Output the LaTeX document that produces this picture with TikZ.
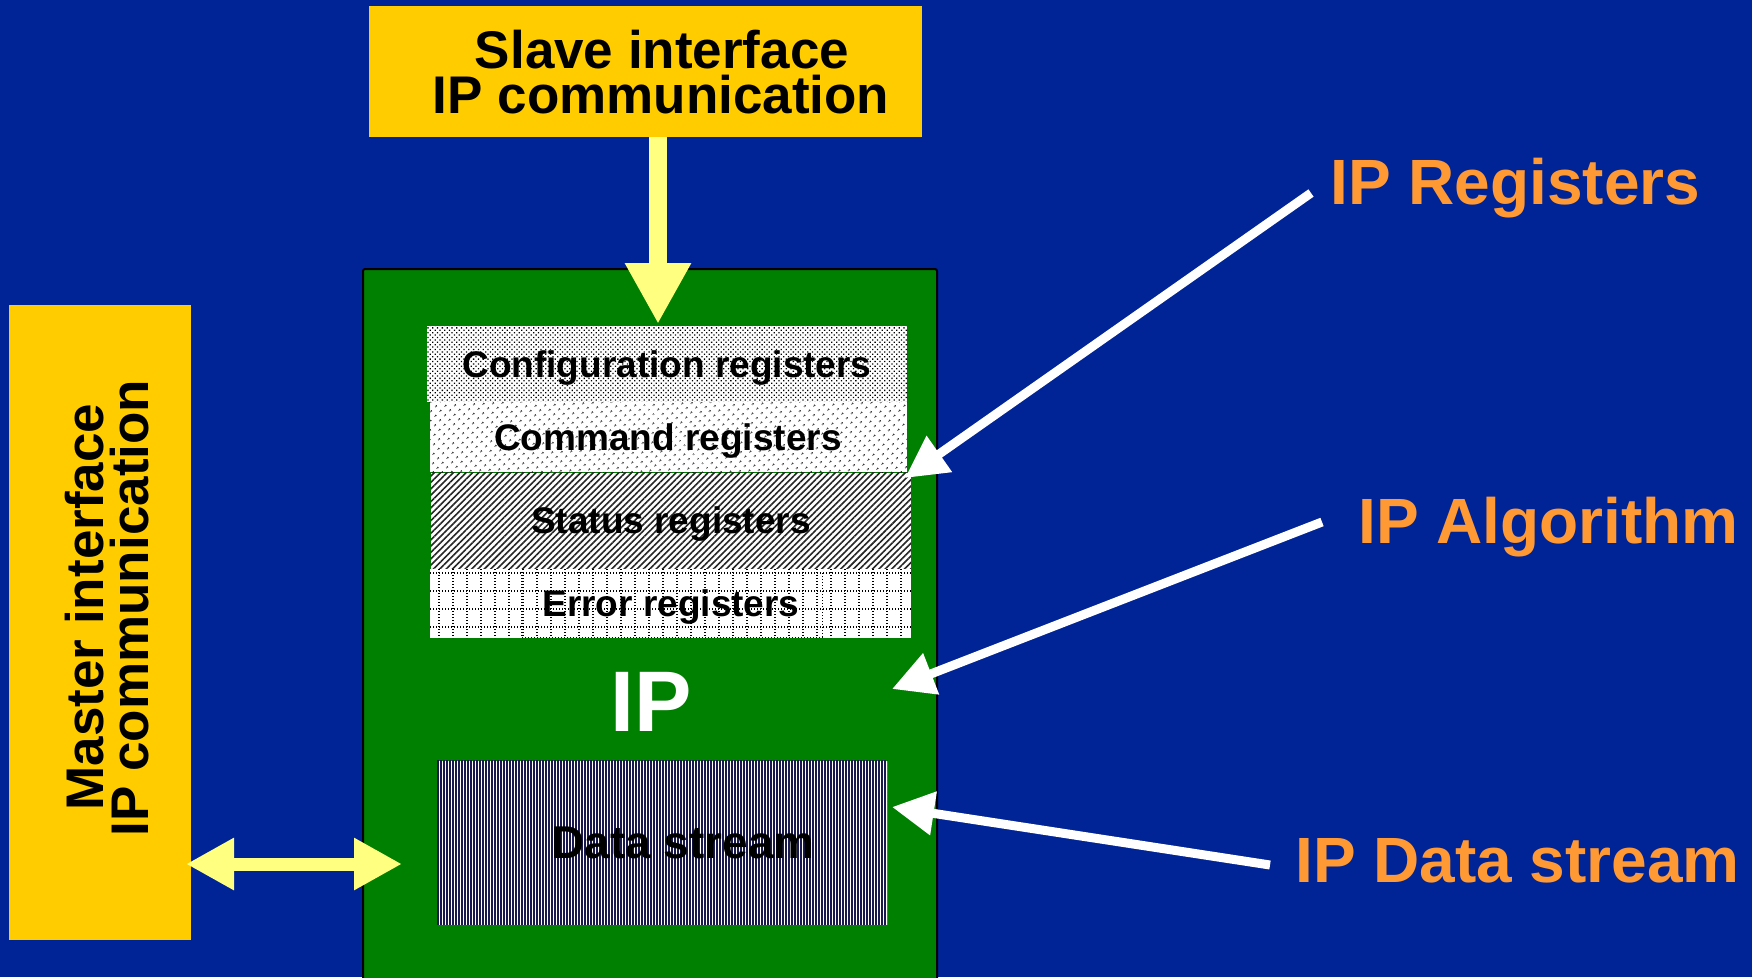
\documentclass[tikz,border=0pt]{standalone}
\usepackage{fontspec}
\setmainfont{Liberation Sans}
\usetikzlibrary{arrows.meta,patterns.meta}

\definecolor{bgnavy}{RGB}{0,35,149}
\definecolor{ipgreen}{RGB}{0,128,0}
\definecolor{ifyellow}{RGB}{255,204,0}
\definecolor{linkyellow}{RGB}{255,255,128}
\definecolor{tagorange}{RGB}{255,153,51}
\definecolor{streamnavy}{RGB}{25,25,80}

\begin{document}
\begin{tikzpicture}[x=1pt,y=-1pt,
  ifbox/.style={fill=ifyellow, draw=none, inner sep=0pt, anchor=north west},
  iftext/.style={font=\bfseries\fontsize{53}{53}\selectfont, inner sep=0pt, anchor=base,
                 text height=38pt, text depth=0pt},
  regbox/.style={draw=none, inner sep=0pt, anchor=north west, preaction={fill=white}},
  regtext/.style={font=\bfseries\fontsize{37}{37}\selectfont, inner sep=0pt, anchor=base},
  tag/.style={font=\bfseries\fontsize{64}{64}\selectfont, text=tagorange, inner sep=0pt, anchor=base west},
  pointer/.style={draw=white, line width=9pt, -{Triangle[length=42pt,width=42pt]}},
  link/.style={draw=linkyellow},
  griddots/.style={black, line width=1.3pt, dash pattern=on 1.3pt off 1.7pt}
]
% page and background
\useasboundingbox (0,0) rectangle (1752,977);
\clip (0,0) rectangle (1752,977);
\fill[bgnavy] (0,0) rectangle (1752,977);

% interface boxes
\node[ifbox, minimum width=553pt, minimum height=131pt] (slave) at (369,6) {};
\node[iftext] (slaveA) at (662,68) {Slave interface};
\node[iftext] (slaveB) at (661,113) {IP communication};

\node[ifbox, minimum width=182pt, minimum height=635pt] (master) at (9,305) {};
\node[iftext, rotate=90] (masterA) at (103,607) {Master interface};
\node[iftext, rotate=90] (masterB) at (148,608) {IP communication};

% IP block
\node[draw=black, line width=2pt, fill=ipgreen, rounded corners=2pt,
      minimum width=574pt, minimum height=740pt, inner sep=0pt, anchor=north west] (ip) at (362,268) {};

% register stack
\node[regbox, pattern={Dots[distance=3.4pt,angle=45,radius=0.9pt]}, pattern color=black,
      minimum width=480pt, minimum height=76pt] (cfg) at (427,326) {};
\node[regbox, pattern={Dots[distance=6.5pt,angle=45,radius=1pt]}, pattern color=black,
      minimum width=477pt, minimum height=70pt] (cmd) at (430,402) {};
\node[regbox, pattern={Lines[distance=4.5pt,angle=45,line width=1.6pt]}, pattern color=black!85,
      minimum width=480pt, minimum height=97pt] (status) at (430,472) {};
\node[regbox, fill=white, minimum width=481pt, minimum height=69pt] (error) at (430,569) {};
\begin{scope}
  \clip (error.north west) rectangle (error.south east);
  \foreach \gx in {439,453,...,911} \draw[griddots] (\gx,569) -- (\gx,638);
  \foreach \gy in {573,591,609,627} \draw[griddots] (430,\gy) -- (911,\gy);
\end{scope}
\draw[griddots, line width=1pt] (521,572) rectangle (822,637);

\node[regtext] (cfgtext) at (667,377) {Configuration registers};
\node[regtext] (cmdtext) at (668,450) {Command registers};
\node[regtext] (statustext) at (671,533) {Status registers};
\node[regtext] (errortext) at (671,616) {Error registers};

\node[font=\bfseries\fontsize{86}{86}\selectfont, text=white, inner sep=0pt, anchor=base] (iplabel) at (651,731) {IP};

% data stream
\node[regbox, pattern={Lines[distance=3pt,angle=90,line width=1.3pt]}, pattern color=streamnavy,
      minimum width=451pt, minimum height=164pt] (stream) at (436,760) {};
\node[font=\bfseries\fontsize{46}{46}\selectfont, inner sep=0pt, anchor=base] (streamtext) at (683,858) {Data stream};

% yellow links
\coordinate (slavelink) at (658,137);
\coordinate (cfglink) at (658,324);
\draw[link, line width=18pt, -{Triangle[length=61pt,width=62pt]}] (slavelink) -- (cfglink);

\coordinate (mlink) at (186,864);
\coordinate (dlink) at (402,864);
\draw[link, line width=13pt, {Triangle[length=48pt,width=49pt]}-{Triangle[length=48pt,width=49pt]}] (mlink) -- (dlink);

% tags and pointers
\node[tag] (regtag) at (1330,204) {IP Registers};
\node[tag] (algtag) at (1358,543) {IP Algorithm};
\node[tag] (streamtag) at (1295,882) {IP Data stream};

\coordinate (regfrom) at (1311,193);
\coordinate (regto) at (905,478);
\coordinate (algfrom) at (1322,522);
\coordinate (algto) at (892,689);
\coordinate (streamfrom) at (1270,865);
\coordinate (streamto) at (892,807);
\draw[pointer] (regfrom) -- (regto);
\draw[pointer] (algfrom) -- (algto);
\draw[pointer] (streamfrom) -- (streamto);
\end{tikzpicture}
\end{document}
